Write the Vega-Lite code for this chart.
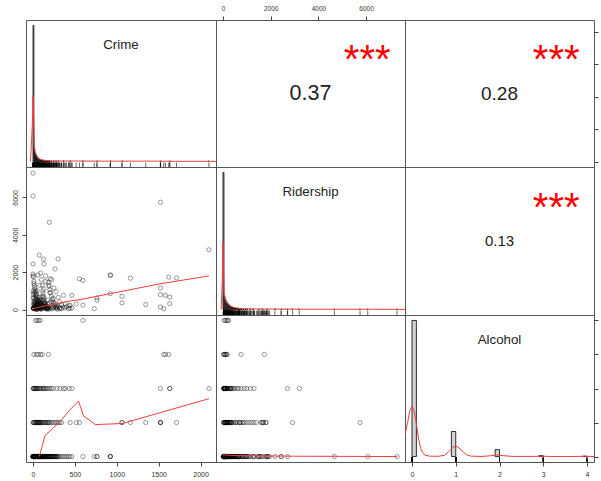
{
"$schema": "https://vega.github.io/schema/vega-lite/v6.json",
"background": "white",
"padding": {"left": 10, "top": 4, "right": 0, "bottom": 0},
"columns": 3, "spacing": 0, "align": "each", "bounds": "flush",
"config": {
 "font": "Liberation Sans",
 "view": {"stroke": "#555", "strokeWidth": 1},
 "axis": {"domain": false, "grid": false, "tickColor": "#444", "tickSize": 4, "labelFont": "Liberation Sans", "labelFontSize": 7, "labelColor": "#333", "title": null},
 "text": {"font": "Liberation Sans"}
},
"datasets": {
 "obs": [
  {"crime":0,"ridership":7300,"alcohol":0},{"crime":0,"ridership":6070,"alcohol":0},{"crime":195,"ridership":4670,"alcohol":0},{"crime":299,"ridership":2710,"alcohol":0},{"crime":0,"ridership":2440,"alcohol":0},{"crime":130,"ridership":2440,"alcohol":0},{"crime":263,"ridership":2175,"alcohol":0},{"crime":595,"ridership":1555,"alcohol":0},{"crime":922,"ridership":1857,"alcohol":0},{"crime":925,"ridership":1820,"alcohol":0},{"crime":922,"ridership":848,"alcohol":0},{"crime":763,"ridership":620,"alcohol":0},{"crime":763,"ridership":495,"alcohol":0},{"crime":730,"ridership":45,"alcohol":0},{"crime":463,"ridership":760,"alcohol":0},{"crime":423,"ridership":45,"alcohol":0},
  {"crime":0,"ridership":1900,"alcohol":0},{"crime":5,"ridership":1750,"alcohol":0},{"crime":10,"ridership":1500,"alcohol":0},{"crime":15,"ridership":1300,"alcohol":0},{"crime":20,"ridership":1100,"alcohol":0},{"crime":25,"ridership":950,"alcohol":0},{"crime":30,"ridership":800,"alcohol":0},{"crime":35,"ridership":700,"alcohol":0},{"crime":40,"ridership":600,"alcohol":0},{"crime":45,"ridership":500,"alcohol":0},{"crime":50,"ridership":420,"alcohol":0},{"crime":55,"ridership":350,"alcohol":0},{"crime":60,"ridership":300,"alcohol":0},{"crime":65,"ridership":250,"alcohol":0},{"crime":70,"ridership":200,"alcohol":0},{"crime":75,"ridership":150,"alcohol":0},{"crime":80,"ridership":120,"alcohol":0},{"crime":85,"ridership":90,"alcohol":0},{"crime":90,"ridership":60,"alcohol":0},{"crime":95,"ridership":30,"alcohol":0},
  {"crime":0,"ridership":1000,"alcohol":0},{"crime":5,"ridership":800,"alcohol":0},{"crime":10,"ridership":650,"alcohol":0},{"crime":12,"ridership":400,"alcohol":0},{"crime":18,"ridership":250,"alcohol":0},{"crime":22,"ridership":150,"alcohol":0},{"crime":28,"ridership":80,"alcohol":0},{"crime":33,"ridership":30,"alcohol":0},{"crime":38,"ridership":10,"alcohol":0},
  {"crime":100,"ridership":1600,"alcohol":0},{"crime":110,"ridership":1300,"alcohol":0},{"crime":115,"ridership":1000,"alcohol":0},{"crime":120,"ridership":850,"alcohol":0},{"crime":125,"ridership":700,"alcohol":0},{"crime":130,"ridership":600,"alcohol":0},{"crime":135,"ridership":480,"alcohol":0},{"crime":140,"ridership":380,"alcohol":0},{"crime":145,"ridership":300,"alcohol":0},{"crime":150,"ridership":220,"alcohol":0},{"crime":155,"ridership":160,"alcohol":0},{"crime":160,"ridership":100,"alcohol":0},{"crime":165,"ridership":60,"alcohol":0},{"crime":170,"ridership":20,"alcohol":0},
  {"crime":180,"ridership":1450,"alcohol":0},{"crime":190,"ridership":1250,"alcohol":0},{"crime":200,"ridership":1050,"alcohol":0},{"crime":210,"ridership":900,"alcohol":0},{"crime":220,"ridership":700,"alcohol":0},{"crime":230,"ridership":550,"alcohol":0},{"crime":240,"ridership":400,"alcohol":0},{"crime":250,"ridership":300,"alcohol":0},{"crime":260,"ridership":200,"alcohol":0},{"crime":270,"ridership":120,"alcohol":0},{"crime":280,"ridership":60,"alcohol":0},{"crime":290,"ridership":20,"alcohol":0},
  {"crime":60,"ridership":1850,"alcohol":0},{"crime":90,"ridership":1950,"alcohol":0},{"crime":150,"ridership":1500,"alcohol":0},{"crime":205,"ridership":1650,"alcohol":0},{"crime":250,"ridership":1150,"alcohol":0},{"crime":275,"ridership":950,"alcohol":0},{"crime":300,"ridership":650,"alcohol":0},{"crime":320,"ridership":420,"alcohol":0},{"crime":340,"ridership":250,"alcohol":0},{"crime":360,"ridership":130,"alcohol":0},{"crime":380,"ridership":80,"alcohol":0},{"crime":400,"ridership":150,"alcohol":0},{"crime":440,"ridership":60,"alcohol":0},
  {"crime":0,"ridership":100,"alcohol":0},{"crime":8,"ridership":50,"alcohol":0},{"crime":16,"ridership":200,"alcohol":0},{"crime":24,"ridership":350,"alcohol":0},{"crime":48,"ridership":150,"alcohol":0},{"crime":56,"ridership":80,"alcohol":0},{"crime":64,"ridership":500,"alcohol":0},{"crime":72,"ridership":650,"alcohol":0},{"crime":84,"ridership":400,"alcohol":0},{"crime":108,"ridership":250,"alcohol":0},{"crime":116,"ridership":180,"alcohol":0},{"crime":132,"ridership":90,"alcohol":0},{"crime":148,"ridership":40,"alcohol":0},{"crime":4,"ridership":300,"alcohol":0},{"crime":14,"ridership":120,"alcohol":0},{"crime":26,"ridership":550,"alcohol":0},{"crime":42,"ridership":260,"alcohol":0},{"crime":52,"ridership":20,"alcohol":0},{"crime":68,"ridership":420,"alcohol":0},{"crime":78,"ridership":330,"alcohol":0},{"crime":98,"ridership":520,"alcohol":0},{"crime":112,"ridership":420,"alcohol":0},{"crime":126,"ridership":330,"alcohol":0},{"crime":142,"ridership":150,"alcohol":0},{"crime":175,"ridership":280,"alcohol":0},{"crime":185,"ridership":90,"alcohol":0},{"crime":195,"ridership":350,"alcohol":0},{"crime":215,"ridership":130,"alcohol":0},{"crime":225,"ridership":40,"alcohol":0},{"crime":245,"ridership":90,"alcohol":0},
  {"crime":1521,"ridership":5745,"alcohol":1},{"crime":75,"ridership":2920,"alcohol":1},{"crime":554,"ridership":1645,"alcohol":1},{"crime":1162,"ridership":1680,"alcohol":1},{"crime":1713,"ridership":1697,"alcohol":1},{"crime":1521,"ridership":795,"alcohol":1},{"crime":1521,"ridership":133,"alcohol":1},{"crime":1345,"ridership":265,"alcohol":1},{"crime":1062,"ridership":707,"alcohol":1},{"crime":1062,"ridership":353,"alcohol":1},{"crime":443,"ridership":230,"alcohol":1},{"crime":515,"ridership":300,"alcohol":1},
  {"crime":0,"ridership":1800,"alcohol":1},{"crime":10,"ridership":1400,"alcohol":1},{"crime":20,"ridership":1200,"alcohol":1},{"crime":30,"ridership":1000,"alcohol":1},{"crime":40,"ridership":850,"alcohol":1},{"crime":50,"ridership":700,"alcohol":1},{"crime":60,"ridership":550,"alcohol":1},{"crime":70,"ridership":450,"alcohol":1},{"crime":80,"ridership":380,"alcohol":1},{"crime":90,"ridership":300,"alcohol":1},{"crime":100,"ridership":250,"alcohol":1},{"crime":120,"ridership":180,"alcohol":1},{"crime":140,"ridership":120,"alcohol":1},{"crime":160,"ridership":80,"alcohol":1},{"crime":180,"ridership":40,"alcohol":1},{"crime":200,"ridership":900,"alcohol":1},{"crime":220,"ridership":1600,"alcohol":1},{"crime":240,"ridership":600,"alcohol":1},{"crime":260,"ridership":350,"alcohol":1},{"crime":280,"ridership":200,"alcohol":1},{"crime":300,"ridership":150,"alcohol":1},{"crime":320,"ridership":100,"alcohol":1},{"crime":340,"ridership":50,"alcohol":1},{"crime":25,"ridership":300,"alcohol":1},{"crime":55,"ridership":200,"alcohol":1},{"crime":85,"ridership":150,"alcohol":1},{"crime":110,"ridership":700,"alcohol":1},{"crime":130,"ridership":1100,"alcohol":1},{"crime":150,"ridership":1800,"alcohol":1},{"crime":170,"ridership":500,"alcohol":1},{"crime":190,"ridership":1300,"alcohol":1},{"crime":5,"ridership":60,"alcohol":1},{"crime":45,"ridership":20,"alcohol":1},{"crime":65,"ridership":100,"alcohol":1},
  {"crime":2100,"ridership":3200,"alcohol":2},{"crime":123,"ridership":2700,"alcohol":2},{"crime":1521,"ridership":1150,"alcohol":2},{"crime":1632,"ridership":663,"alcohol":2},{"crime":1632,"ridership":310,"alcohol":2},{"crime":363,"ridership":760,"alcohol":2},{"crime":383,"ridership":310,"alcohol":2},
  {"crime":0,"ridership":600,"alcohol":2},{"crime":15,"ridership":450,"alcohol":2},{"crime":30,"ridership":350,"alcohol":2},{"crime":45,"ridership":250,"alcohol":2},{"crime":60,"ridership":180,"alcohol":2},{"crime":75,"ridership":120,"alcohol":2},{"crime":90,"ridership":80,"alcohol":2},{"crime":105,"ridership":40,"alcohol":2},{"crime":120,"ridership":500,"alcohol":2},{"crime":135,"ridership":300,"alcohol":2},{"crime":150,"ridership":200,"alcohol":2},{"crime":165,"ridership":100,"alcohol":2},{"crime":180,"ridership":60,"alcohol":2},{"crime":200,"ridership":30,"alcohol":2},{"crime":220,"ridership":400,"alcohol":2},{"crime":240,"ridership":150,"alcohol":2},{"crime":10,"ridership":900,"alcohol":2},{"crime":50,"ridership":1000,"alcohol":2},{"crime":80,"ridership":1300,"alcohol":2},{"crime":285,"ridership":100,"alcohol":2},{"crime":320,"ridership":50,"alcohol":2},{"crime":430,"ridership":200,"alcohol":2},{"crime":465,"ridership":80,"alcohol":2},{"crime":5,"ridership":50,"alcohol":2},{"crime":25,"ridership":120,"alcohol":2},{"crime":35,"ridership":30,"alcohol":2},
  {"crime":1580,"ridership":760,"alcohol":3},{"crime":1560,"ridership":45,"alcohol":3},{"crime":1620,"ridership":1733,"alcohol":3},{"crime":10,"ridership":50,"alcohol":3},{"crime":40,"ridership":120,"alcohol":3},{"crime":60,"ridership":180,"alcohol":3},{"crime":90,"ridership":30,"alcohol":3},{"crime":110,"ridership":100,"alcohol":3},{"crime":183,"ridership":150,"alcohol":3},
  {"crime":30,"ridership":100,"alcohol":4},{"crime":50,"ridership":200,"alcohol":4},{"crime":70,"ridership":50,"alcohol":4},{"crime":85,"ridership":150,"alcohol":4},{"crime":595,"ridership":230,"alcohol":4}
 ],
 "crimeHist": [
  {"start":0,"end":10,"density":1},{"start":10,"end":20,"density":0.09},{"start":20,"end":30,"density":0.065},{"start":30,"end":40,"density":0.05},{"start":40,"end":50,"density":0.04},{"start":50,"end":60,"density":0.03},{"start":60,"end":70,"density":0.024},{"start":70,"end":80,"density":0.018},{"start":80,"end":90,"density":0.014},{"start":90,"end":100,"density":0.011},{"start":100,"end":110,"density":0.009},{"start":110,"end":120,"density":0.008},{"start":120,"end":130,"density":0.007},{"start":130,"end":140,"density":0.006},{"start":140,"end":150,"density":0.005},{"start":150,"end":160,"density":0.005},{"start":160,"end":170,"density":0.004},{"start":170,"end":180,"density":0.004},{"start":180,"end":190,"density":0.003},{"start":190,"end":200,"density":0.003},{"start":210,"end":220,"density":0.004},{"start":240,"end":250,"density":0.004},{"start":270,"end":280,"density":0.004},{"start":300,"end":310,"density":0.004},{"start":360,"end":370,"density":0.004},{"start":440,"end":450,"density":0.004},{"start":590,"end":600,"density":0.004},{"start":760,"end":770,"density":0.004},{"start":920,"end":930,"density":0.004},{"start":1060,"end":1070,"density":0.004},{"start":1520,"end":1530,"density":0.004},{"start":1630,"end":1640,"density":0.004},{"start":2090,"end":2100,"density":0.004}
 ],
 "crimeDensity": [
  {"crime":-30,"density":0},{"crime":-10,"density":0.25},{"crime":0,"density":0.48},{"crime":8,"density":0.3},{"crime":15,"density":0.12},{"crime":25,"density":0.07},{"crime":40,"density":0.045},{"crime":60,"density":0.025},{"crime":90,"density":0.015},{"crime":150,"density":0.008},{"crime":250,"density":0.005},{"crime":500,"density":0.004},{"crime":800,"density":0.003},{"crime":1100,"density":0.003},{"crime":1500,"density":0.003},{"crime":1700,"density":0.002},{"crime":2100,"density":0.002},{"crime":2184,"density":0.001}
 ],
 "ridershipHist": [
  {"start":0,"end":40,"density":1},{"start":40,"end":80,"density":0.1},{"start":80,"end":120,"density":0.075},{"start":120,"end":160,"density":0.06},{"start":160,"end":200,"density":0.048},{"start":200,"end":240,"density":0.04},{"start":240,"end":280,"density":0.033},{"start":280,"end":320,"density":0.027},{"start":320,"end":360,"density":0.022},{"start":360,"end":400,"density":0.018},{"start":400,"end":440,"density":0.015},{"start":440,"end":480,"density":0.013},{"start":480,"end":520,"density":0.011},{"start":520,"end":560,"density":0.01},{"start":560,"end":600,"density":0.009},{"start":600,"end":640,"density":0.008},{"start":640,"end":680,"density":0.007},{"start":680,"end":720,"density":0.006},{"start":720,"end":760,"density":0.006},{"start":760,"end":800,"density":0.005},{"start":840,"end":880,"density":0.004},{"start":920,"end":960,"density":0.004},{"start":1000,"end":1040,"density":0.004},{"start":1120,"end":1160,"density":0.003},{"start":1240,"end":1280,"density":0.003},{"start":1480,"end":1520,"density":0.003},{"start":1640,"end":1680,"density":0.003},{"start":1840,"end":1880,"density":0.003},{"start":2160,"end":2200,"density":0.003},{"start":2440,"end":2480,"density":0.003},{"start":2680,"end":2720,"density":0.003},{"start":2880,"end":2920,"density":0.003},{"start":3160,"end":3200,"density":0.003},{"start":4640,"end":4680,"density":0.003},{"start":5720,"end":5760,"density":0.003},{"start":6040,"end":6080,"density":0.003},{"start":7280,"end":7320,"density":0.003}
 ],
 "ridershipDensity": [
  {"ridership":-80,"density":0},{"ridership":-30,"density":0.2},{"ridership":0,"density":0.49},{"ridership":20,"density":0.3},{"ridership":50,"density":0.12},{"ridership":90,"density":0.08},{"ridership":150,"density":0.055},{"ridership":200,"density":0.04},{"ridership":300,"density":0.025},{"ridership":450,"density":0.015},{"ridership":600,"density":0.01},{"ridership":900,"density":0.006},{"ridership":1500,"density":0.004},{"ridership":2500,"density":0.003},{"ridership":4000,"density":0.002},{"ridership":6000,"density":0.002},{"ridership":7400,"density":0.001},{"ridership":7631,"density":0.0005}
 ],
 "alcoholHist": [
  {"start":0,"end":0.1,"density":1},{"start":0.9,"end":1,"density":0.184},{"start":1.9,"end":2,"density":0.051},{"start":2.9,"end":3,"density":0.007},{"start":3.9,"end":4,"density":0.003}
 ],
 "alcoholDensity": [
  {"alcohol":-0.16,"density":0.16},{"alcohol":-0.1,"density":0.25},{"alcohol":-0.05,"density":0.34},{"alcohol":0,"density":0.37},{"alcohol":0.05,"density":0.33},{"alcohol":0.1,"density":0.24},{"alcohol":0.15,"density":0.13},{"alcohol":0.2,"density":0.06},{"alcohol":0.25,"density":0.025},{"alcohol":0.3,"density":0.01},{"alcohol":0.4,"density":0.003},{"alcohol":0.6,"density":0.002},{"alcohol":0.75,"density":0.01},{"alcohol":0.85,"density":0.04},{"alcohol":0.95,"density":0.07},{"alcohol":1,"density":0.076},{"alcohol":1.05,"density":0.07},{"alcohol":1.15,"density":0.04},{"alcohol":1.25,"density":0.012},{"alcohol":1.35,"density":0.003},{"alcohol":1.6,"density":0.001},{"alcohol":1.8,"density":0.006},{"alcohol":1.95,"density":0.012},{"alcohol":2.1,"density":0.006},{"alcohol":2.3,"density":0.001},{"alcohol":2.8,"density":0.001},{"alcohol":2.95,"density":0.003},{"alcohol":3.1,"density":0.001},{"alcohol":3.5,"density":0},{"alcohol":3.95,"density":0.002},{"alcohol":4.16,"density":0}
 ],
 "smoothCR": [
  {"crime":0,"ridership":50},{"crime":150,"ridership":200},{"crime":300,"ridership":330},{"crime":400,"ridership":430},{"crime":560,"ridership":530},{"crime":920,"ridership":850},{"crime":1520,"ridership":1380},{"crime":2100,"ridership":1800}
 ],
 "smoothCA": [
  {"crime":75,"alcohol":0},{"crime":144,"alcohol":0.62},{"crime":243,"alcohol":0.84},{"crime":344,"alcohol":1.09},{"crime":443,"alcohol":1.38},{"crime":543,"alcohol":1.63},{"crime":602,"alcohol":1.2},{"crime":743,"alcohol":0.94},{"crime":1062,"alcohol":0.97},{"crime":2100,"alcohol":1.7}
 ],
 "smoothRA": [
  {"ridership":0,"alcohol":0.05},{"ridership":500,"alcohol":0.03},{"ridership":1500,"alcohol":0.02},{"ridership":3000,"alcohol":0.01},{"ridership":7300,"alcohol":0}
 ],
 "correlations": [
  {"pair":"Crime-Ridership","r":"0.37","stars":"***"},{"pair":"Crime-Alcohol","r":"0.28","stars":"***"},{"pair":"Ridership-Alcohol","r":"0.13","stars":"***"}
 ],
 "variables": [{"name":"Crime"},{"name":"Ridership"},{"name":"Alcohol"}]
},
"concat": [
 {"width": 190, "height": 147, "layer": [
  {"data": {"name": "crimeHist"}, "mark": {"type": "rect", "fill": "#d3d3d3", "stroke": "#000", "strokeWidth": 0.8},
   "encoding": {"x": {"field": "start", "type": "quantitative", "scale": {"domain": [-84, 2184], "nice": false, "zero": false}, "axis": null}, "x2": {"field": "end"},
    "y": {"field": "density", "type": "quantitative", "scale": {"domain": [-0.04, 1.04], "nice": false, "zero": false}, "axis": null}, "y2": {"datum": 0}}},
  {"data": {"name": "crimeDensity"}, "mark": {"type": "line", "color": "#f03c3c", "strokeWidth": 1, "clip": true},
   "encoding": {"x": {"field": "crime", "type": "quantitative", "axis": null}, "y": {"field": "density", "type": "quantitative", "axis": null}}},
  {"data": {"name": "obs"}, "mark": {"type": "rule", "color": "#000", "strokeWidth": 0.6},
   "encoding": {"x": {"field": "crime", "type": "quantitative", "axis": null}, "y": {"datum": -0.04, "type": "quantitative", "axis": null}, "y2": {"datum": -0.0076}}},
  {"data": {"name": "variables"}, "transform": [{"filter": "datum.name === 'Crime'"}], "mark": {"type": "text", "fontSize": 13.3, "color": "#222", "baseline": "middle"},
   "encoding": {"text": {"field": "name"}, "x": {"datum": 1050, "type": "quantitative", "axis": null}, "y": {"datum": 0.86, "type": "quantitative", "axis": null}}}
 ]},
 {"width": 189, "height": 147, "data": {"name": "correlations"}, "transform": [{"filter": "datum.pair === 'Crime-Ridership'"}], "layer": [
  {"mark": {"type": "text", "fontSize": 21.5, "color": "#222", "baseline": "middle"},
   "encoding": {"text": {"field": "r"},
    "x": {"datum": 3669, "type": "quantitative", "scale": {"domain": [-293, 7631], "nice": false, "zero": false}, "axis": {"orient": "top", "values": [0, 2000, 4000, 6000], "format": "d", "labelPadding": 5, "labelFontSize": 6.5}},
    "y": {"datum": 0.5, "type": "quantitative", "scale": {"domain": [0, 1], "nice": false, "zero": false}, "axis": null}}},
  {"mark": {"type": "text", "fontSize": 40, "color": "#ff0000", "baseline": "alphabetic", "dy": 24},
   "encoding": {"text": {"field": "stars"},
    "x": {"datum": 6046, "type": "quantitative", "axis": {"orient": "top", "values": [0, 2000, 4000, 6000], "format": "d", "labelPadding": 5, "labelFontSize": 6.5}},
    "y": {"datum": 0.8, "type": "quantitative", "axis": null}}}
 ]},
 {"width": 189, "height": 147, "data": {"name": "correlations"}, "transform": [{"filter": "datum.pair === 'Crime-Alcohol'"}], "layer": [
  {"mark": {"type": "text", "fontSize": 19, "color": "#222", "baseline": "middle"},
   "encoding": {"text": {"field": "r"},
    "x": {"datum": 0.5, "type": "quantitative", "scale": {"domain": [0, 1], "nice": false, "zero": false}, "axis": null},
    "y": {"datum": 1050, "type": "quantitative", "scale": {"domain": [-84, 2184], "nice": false, "zero": false}, "axis": {"orient": "right", "values": [0, 500, 1000, 1500, 2000], "labels": false}}}},
  {"mark": {"type": "text", "fontSize": 40, "color": "#ff0000", "baseline": "alphabetic", "dy": 24},
   "encoding": {"text": {"field": "stars"},
    "x": {"datum": 0.8, "type": "quantitative", "axis": null},
    "y": {"datum": 1730, "type": "quantitative", "axis": {"orient": "right", "values": [0, 500, 1000, 1500, 2000], "labels": false}}}}
 ]},
 {"width": 190, "height": 148, "layer": [
  {"data": {"name": "obs"}, "mark": {"type": "point", "shape": "circle", "filled": false, "size": 18, "stroke": "#000", "strokeOpacity": 0.7, "strokeWidth": 0.8},
   "encoding": {"x": {"field": "crime", "type": "quantitative", "scale": {"domain": [-84, 2184], "nice": false, "zero": false}, "axis": null},
    "y": {"field": "ridership", "type": "quantitative", "scale": {"domain": [-293, 7631], "nice": false, "zero": false}, "axis": {"orient": "left", "values": [0, 2000, 4000, 6000], "format": "d", "labelAngle": 270, "labelAlign": "center", "labelBaseline": "bottom", "labelPadding": 4}}}},
  {"data": {"name": "smoothCR"}, "mark": {"type": "line", "color": "#f03c3c", "strokeWidth": 1, "clip": true},
   "encoding": {"x": {"field": "crime", "type": "quantitative", "axis": null}, "y": {"field": "ridership", "type": "quantitative", "axis": {"orient": "left", "values": [0, 2000, 4000, 6000], "format": "d", "labelAngle": 270, "labelAlign": "center", "labelBaseline": "bottom", "labelPadding": 4}}}}
 ]},
 {"width": 189, "height": 148, "layer": [
  {"data": {"name": "ridershipHist"}, "mark": {"type": "rect", "fill": "#d3d3d3", "stroke": "#000", "strokeWidth": 0.8},
   "encoding": {"x": {"field": "start", "type": "quantitative", "scale": {"domain": [-293, 7631], "nice": false, "zero": false}, "axis": null}, "x2": {"field": "end"},
    "y": {"field": "density", "type": "quantitative", "scale": {"domain": [-0.04, 1.04], "nice": false, "zero": false}, "axis": null}, "y2": {"datum": 0}}},
  {"data": {"name": "ridershipDensity"}, "mark": {"type": "line", "color": "#f03c3c", "strokeWidth": 1, "clip": true},
   "encoding": {"x": {"field": "ridership", "type": "quantitative", "axis": null}, "y": {"field": "density", "type": "quantitative", "axis": null}}},
  {"data": {"name": "obs"}, "mark": {"type": "rule", "color": "#000", "strokeWidth": 0.6},
   "encoding": {"x": {"field": "ridership", "type": "quantitative", "axis": null}, "y": {"datum": -0.04, "type": "quantitative", "axis": null}, "y2": {"datum": -0.0076}}},
  {"data": {"name": "variables"}, "transform": [{"filter": "datum.name === 'Ridership'"}], "mark": {"type": "text", "fontSize": 13.3, "color": "#222", "baseline": "middle"},
   "encoding": {"text": {"field": "name"}, "x": {"datum": 3669, "type": "quantitative", "axis": null}, "y": {"datum": 0.86, "type": "quantitative", "axis": null}}}
 ]},
 {"width": 189, "height": 148, "data": {"name": "correlations"}, "transform": [{"filter": "datum.pair === 'Ridership-Alcohol'"}], "layer": [
  {"mark": {"type": "text", "fontSize": 15, "color": "#222", "baseline": "middle"},
   "encoding": {"text": {"field": "r"},
    "x": {"datum": 0.5, "type": "quantitative", "scale": {"domain": [0, 1], "nice": false, "zero": false}, "axis": null},
    "y": {"datum": 0.5, "type": "quantitative", "scale": {"domain": [0, 1], "nice": false, "zero": false}, "axis": null}}},
  {"mark": {"type": "text", "fontSize": 40, "color": "#ff0000", "baseline": "alphabetic", "dy": 24},
   "encoding": {"text": {"field": "stars"},
    "x": {"datum": 0.8, "type": "quantitative", "axis": null},
    "y": {"datum": 0.8, "type": "quantitative", "axis": null}}}
 ]},
 {"width": 190, "height": 147, "layer": [
  {"data": {"name": "obs"}, "mark": {"type": "point", "shape": "circle", "filled": false, "size": 18, "stroke": "#000", "strokeOpacity": 0.7, "strokeWidth": 0.8},
   "encoding": {"x": {"field": "crime", "type": "quantitative", "scale": {"domain": [-84, 2184], "nice": false, "zero": false}, "axis": {"orient": "bottom", "values": [0, 500, 1000, 1500, 2000], "format": "d", "labelPadding": 4.5}},
    "y": {"field": "alcohol", "type": "quantitative", "scale": {"domain": [-0.16, 4.16], "nice": false, "zero": false}, "axis": null}}},
  {"data": {"name": "smoothCA"}, "mark": {"type": "line", "color": "#f03c3c", "strokeWidth": 1, "clip": true},
   "encoding": {"x": {"field": "crime", "type": "quantitative", "axis": {"orient": "bottom", "values": [0, 500, 1000, 1500, 2000], "format": "d", "labelPadding": 4.5}}, "y": {"field": "alcohol", "type": "quantitative", "axis": null}}}
 ]},
 {"width": 189, "height": 147, "layer": [
  {"data": {"name": "obs"}, "mark": {"type": "point", "shape": "circle", "filled": false, "size": 18, "stroke": "#000", "strokeOpacity": 0.7, "strokeWidth": 0.8},
   "encoding": {"x": {"field": "ridership", "type": "quantitative", "scale": {"domain": [-293, 7631], "nice": false, "zero": false}, "axis": null},
    "y": {"field": "alcohol", "type": "quantitative", "scale": {"domain": [-0.16, 4.16], "nice": false, "zero": false}, "axis": null}}},
  {"data": {"name": "smoothRA"}, "mark": {"type": "line", "color": "#f03c3c", "strokeWidth": 1, "clip": true},
   "encoding": {"x": {"field": "ridership", "type": "quantitative", "axis": null}, "y": {"field": "alcohol", "type": "quantitative", "axis": null}}}
 ]},
 {"width": 189, "height": 147, "layer": [
  {"data": {"name": "alcoholHist"}, "mark": {"type": "rect", "fill": "#d3d3d3", "stroke": "#000", "strokeWidth": 0.8},
   "encoding": {"x": {"field": "start", "type": "quantitative", "scale": {"domain": [-0.16, 4.16], "nice": false, "zero": false}, "axis": {"orient": "bottom", "values": [0, 1, 2, 3, 4], "format": "d", "labelPadding": 4.5}}, "x2": {"field": "end"},
    "y": {"field": "density", "type": "quantitative", "scale": {"domain": [-0.04, 1.04], "nice": false, "zero": false}, "axis": {"orient": "right", "values": [0, 0.25, 0.5, 0.75, 1], "labels": false}}, "y2": {"datum": 0}}},
  {"data": {"name": "alcoholDensity"}, "mark": {"type": "line", "color": "#f03c3c", "strokeWidth": 1, "clip": true},
   "encoding": {"x": {"field": "alcohol", "type": "quantitative", "axis": {"orient": "bottom", "values": [0, 1, 2, 3, 4], "format": "d", "labelPadding": 4.5}}, "y": {"field": "density", "type": "quantitative", "axis": {"orient": "right", "values": [0, 0.25, 0.5, 0.75, 1], "labels": false}}}},
  {"data": {"name": "obs"}, "mark": {"type": "rule", "color": "#000", "strokeWidth": 0.6},
   "encoding": {"x": {"field": "alcohol", "type": "quantitative", "axis": {"orient": "bottom", "values": [0, 1, 2, 3, 4], "format": "d", "labelPadding": 4.5}}, "y": {"datum": -0.04, "type": "quantitative", "axis": {"orient": "right", "values": [0, 0.25, 0.5, 0.75, 1], "labels": false}}, "y2": {"datum": -0.0076}}},
  {"data": {"name": "variables"}, "transform": [{"filter": "datum.name === 'Alcohol'"}], "mark": {"type": "text", "fontSize": 13.3, "color": "#222", "baseline": "middle"},
   "encoding": {"text": {"field": "name"}, "x": {"datum": 2, "type": "quantitative", "axis": {"orient": "bottom", "values": [0, 1, 2, 3, 4], "format": "d", "labelPadding": 4.5}}, "y": {"datum": 0.86, "type": "quantitative", "axis": {"orient": "right", "values": [0, 0.25, 0.5, 0.75, 1], "labels": false}}}}
 ]}
]
}
